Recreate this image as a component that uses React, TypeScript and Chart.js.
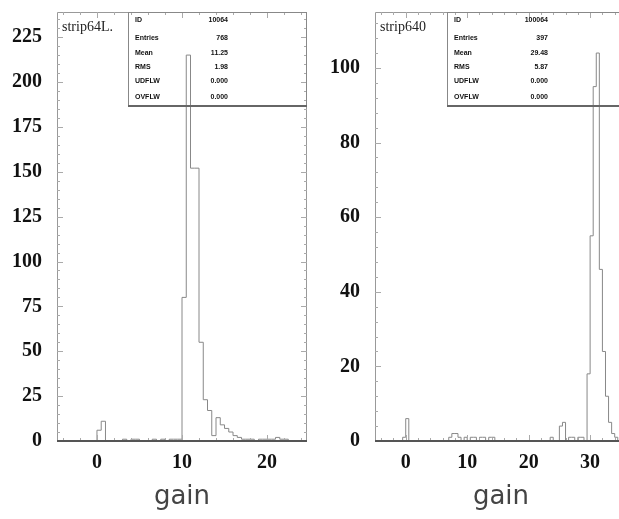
import React, { useEffect, useRef } from "react";
import { Chart, registerables } from "chart.js";

Chart.register(...registerables);

// ---------- data ----------
const leftBinStart = -4.5;
const leftBinWidth = 0.5;
const leftCounts = [
  0, 0, 0, 0, 0, 0, 0, 0, // -4.5 .. -1.0
  0, 6, 11, // -0.5 .. 0.5
  0, 0, 0, 0, // 1.0 .. 2.5
  1, 0, 1, 1, 0, 0, 0, 1, 0, 1, 0, 1, 1, 1, // 3.0 .. 9.5
  80, 215, 152, 152, 55, 23, 17, 3, // 10.0 .. 13.5
  13, 9, 7, 5, 3, 2, 1, 1, // 14.0 .. 17.5
  1, 0, 1, 1, 1, 1, 2, 1, 1, 0, // 18.0 .. 22.5
];

const rightBinStart = -5;
const rightBinWidth = 0.5;
const rightCounts = [
  0, 0, 0, 0, 0, 0, 0, 0, 0, // -5.0 .. -1.0
  1, 6, 0, // -0.5 .. 0.5
  0, 0, 0, 0, 0, 0, 0, 0, 0, 0, 0, 0, // 1.0 .. 6.5
  1, 2, 2, 1, 0, 1, 0, 1, 1, 0, 1, 1, 0, 1, 1, 0, // 7.0 .. 14.5
  0, 0, 0, 0, 0, 0, 0, 0, 0, 0, 0, 0, 0, 0, 0, 0, // 15.0 .. 22.5
  0, 1, 0, 0, 4, 5, 0, 1, 1, 0, 1, 1, 0, // 23.0 .. 29.0
  18, 55, 95, 104, 46, 24, 12, 5, 2, 1, 0, 0, // 29.5 .. 35.0
];

const leftXTicks = [0, 10, 20];
const rightXTicks = [0, 10, 20, 30];
const leftYTicks = [0, 25, 50, 75, 100, 125, 150, 175, 200, 225];
const rightYTicks = [0, 20, 40, 60, 80, 100];

const xTitle = "gain";
const leftTitle = "strip64L.";
const rightTitle = "strip640";
const statLabels = ["ID", "Entries", "Mean", "RMS", "UDFLW", "OVFLW"];
const leftStatValues = ["10064", "768", "11.25", "1.98", "0.000", "0.000"];
const rightStatValues = ["100064", "397", "29.48", "5.87", "0.000", "0.000"];

// ---------- helpers ----------
function histPoints(start: number, width: number, counts: number[]) {
  const pts: { x: number; y: number }[] = [{ x: start, y: 0 }];
  counts.forEach((c, i) => pts.push({ x: start + i * width, y: c }));
  pts.push({ x: start + counts.length * width, y: 0 });
  return pts;
}

type PanelCfg = {
  start: number;
  width: number;
  counts: number[];
  xMin: number;
  xMax: number;
  yMax: number;
  xTicks: number[];
  yTicks: number[];
  xMinor: number;
  yMinor: number;
  xMajor: number;
  yMajor: number;
  yAxisWidth: number;
  padRight: number;
  title: string;
  statValues: string[];
  boxLeft: number;
  valueOffset: number;
};

function makePlugin(cfg: PanelCfg) {
  return {
    id: "frameAndStats",
    afterDatasetsDraw(chart: any) {
      const ctx: CanvasRenderingContext2D = chart.ctx;
      const { left, right, top, bottom } = chart.chartArea;
      const xs = chart.scales.x;
      const ys = chart.scales.y;
      ctx.save();
      ctx.strokeStyle = "#999";
      ctx.lineWidth = 1;
      ctx.beginPath();
      ctx.moveTo(left + 0.5, bottom);
      ctx.lineTo(left + 0.5, top + 0.5);
      ctx.lineTo(right - 0.5, top + 0.5);
      ctx.lineTo(right - 0.5, bottom);
      ctx.stroke();
      ctx.strokeStyle = "#aaa";
      ctx.beginPath();
      for (let v = 0; v <= cfg.yMax + 1e-9; v += cfg.yMinor) {
        const py = Math.round(ys.getPixelForValue(v)) + 0.5;
        const len = Math.abs(v % cfg.yMajor) < 1e-9 ? 6 : 3;
        ctx.moveTo(left, py);
        ctx.lineTo(left + len, py);
        ctx.moveTo(right, py);
        ctx.lineTo(right - len, py);
      }
      const x0 = Math.ceil(cfg.xMin / cfg.xMinor) * cfg.xMinor;
      for (let v = x0; v <= cfg.xMax + 1e-9; v += cfg.xMinor) {
        const px = Math.round(xs.getPixelForValue(v)) + 0.5;
        const len = Math.abs(v % cfg.xMajor) < 1e-9 ? 6 : 3;
        ctx.moveTo(px, top);
        ctx.lineTo(px, top + len);
        ctx.moveTo(px, bottom);
        ctx.lineTo(px, bottom - len);
      }
      ctx.stroke();
      ctx.strokeStyle = "#555";
      ctx.lineWidth = 2;
      ctx.beginPath();
      ctx.moveTo(left, bottom);
      ctx.lineTo(right, bottom);
      ctx.stroke();

      ctx.fillStyle = "#222";
      ctx.font = "14px 'Liberation Serif'";
      ctx.textAlign = "left";
      ctx.textBaseline = "middle";
      ctx.fillText(cfg.title, left + 5, top + 15);

      const bx = cfg.boxLeft;
      const by = top;
      const bh = 94;
      ctx.strokeStyle = "#888";
      ctx.lineWidth = 1;
      ctx.strokeRect(bx + 0.5, by + 0.5, right - bx - 1, bh);
      ctx.strokeStyle = "#666";
      ctx.lineWidth = 2;
      ctx.beginPath();
      ctx.moveTo(bx, by + bh);
      ctx.lineTo(right, by + bh);
      ctx.stroke();
      const rows = [8, 26, 41, 55, 69, 85];
      ctx.fillStyle = "#111";
      ctx.font = "bold 7px 'Liberation Sans'";
      statLabels.forEach((lab, i) => {
        ctx.textAlign = "left";
        ctx.fillText(lab, bx + 7, by + rows[i]);
        ctx.textAlign = "right";
        ctx.fillText(cfg.statValues[i], bx + cfg.valueOffset, by + rows[i]);
      });
      ctx.restore();
    },
  };
}

function buildChart(canvas: HTMLCanvasElement, cfg: PanelCfg) {
  return new Chart(canvas, {
    type: "line",
    data: {
      datasets: [
        {
          data: histPoints(cfg.start, cfg.width, cfg.counts),
          stepped: true,
          borderColor: "#888",
          borderWidth: 1,
          pointRadius: 0,
          fill: false,
        },
      ],
    },
    options: {
      animation: false,
      responsive: false,
      devicePixelRatio: 1,
      layout: { padding: { left: 0, right: cfg.padRight, top: 12, bottom: 0 } },
      plugins: { legend: { display: false }, tooltip: { enabled: false } },
      scales: {
        x: {
          type: "linear",
          min: cfg.xMin,
          max: cfg.xMax,
          grid: { display: false, drawTicks: false },
          border: { display: false },
          afterBuildTicks: (s: any) => {
            s.ticks = cfg.xTicks.map((v) => ({ value: v }));
          },
          afterFit: (s: any) => {
            s.height = 78;
            s.paddingLeft = 0;
            s.paddingRight = 0;
          },
          ticks: {
            autoSkip: false,
            maxRotation: 0,
            padding: 10,
            color: "#111",
            font: { family: "'Liberation Serif'", size: 20, weight: "bold" },
            callback: (v: any) => String(v),
          },
          title: {
            display: true,
            text: xTitle,
            color: "#444",
            font: { family: "'DejaVu Sans'", size: 26 },
            padding: { top: 0, bottom: 6 },
          },
        },
        y: {
          type: "linear",
          min: 0,
          max: cfg.yMax,
          grid: { display: false, drawTicks: false },
          border: { display: false },
          afterBuildTicks: (s: any) => {
            s.ticks = cfg.yTicks.map((v) => ({ value: v }));
          },
          afterFit: (s: any) => {
            s.width = cfg.yAxisWidth;
            s.paddingTop = 0;
            s.paddingBottom = 0;
          },
          ticks: {
            autoSkip: false,
            padding: 15,
            color: "#111",
            font: { family: "'Liberation Serif'", size: 20, weight: "bold" },
            callback: (v: any) => String(v),
          },
        },
      },
    } as any,
    plugins: [makePlugin(cfg) as any],
  });
}

export default function App() {
  const leftRef = useRef<HTMLCanvasElement>(null);
  const rightRef = useRef<HTMLCanvasElement>(null);

  useEffect(() => {
    const c1 = buildChart(leftRef.current!, {
      start: leftBinStart,
      width: leftBinWidth,
      counts: leftCounts,
      xMin: -4.7,
      xMax: 24.7,
      yMax: 239,
      xTicks: leftXTicks,
      yTicks: leftYTicks,
      xMinor: 2,
      yMinor: 5,
      xMajor: 10,
      yMajor: 25,
      yAxisWidth: 57,
      padRight: 13,
      title: leftTitle,
      statValues: leftStatValues,
      boxLeft: 128,
      valueOffset: 100,
    });
    const c2 = buildChart(rightRef.current!, {
      start: rightBinStart,
      width: rightBinWidth,
      counts: rightCounts,
      xMin: -5,
      xMax: 36,
      yMax: 115,
      xTicks: rightXTicks,
      yTicks: rightYTicks,
      xMinor: 2,
      yMinor: 4,
      xMajor: 10,
      yMajor: 20,
      yAxisWidth: 65,
      padRight: 23,
      title: rightTitle,
      statValues: rightStatValues,
      boxLeft: 137,
      valueOffset: 101,
    });
    return () => {
      c1.destroy();
      c2.destroy();
    };
  }, []);

  return (
    <div
      style={{
        position: "absolute",
        left: 0,
        top: 0,
        width: 619,
        height: 519,
        overflow: "hidden",
        background: "#fff",
      }}
    >
      <canvas
        ref={leftRef}
        width={320}
        height={519}
        style={{ position: "absolute", left: 0, top: 0, width: 320, height: 519 }}
      />
      <canvas
        ref={rightRef}
        width={340}
        height={519}
        style={{ position: "absolute", left: 310, top: 0, width: 340, height: 519 }}
      />
    </div>
  );
}
